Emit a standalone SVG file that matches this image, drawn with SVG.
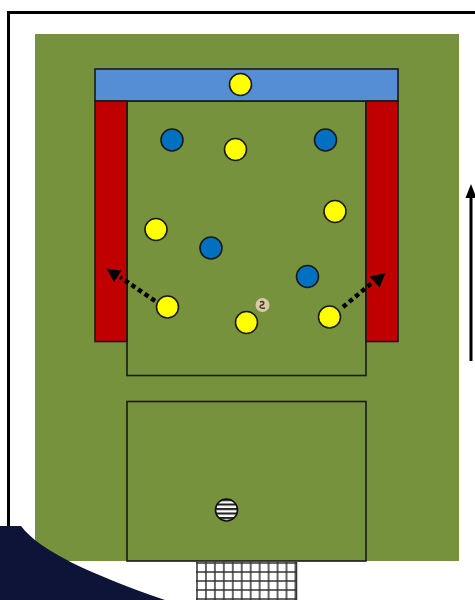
<svg xmlns="http://www.w3.org/2000/svg" width="475" height="600" viewBox="0 0 475 600">
<defs>
<style>
.zone{stroke:#1a1a1a;stroke-width:1.6}
.y{fill:#ffff00;stroke:#1a1a1a;stroke-width:1.6}
.b{fill:#0070c0;stroke:#1a1a1a;stroke-width:1.6}
.run{fill:none;stroke:#000;stroke-width:4.500;stroke-dasharray:4.500 3.500}
</style>
<pattern id="net" width="8.950" height="9" patternUnits="userSpaceOnUse" x="196" y="562"><path d="M0 1H8.950M1 0V9" fill="none" stroke="#333" stroke-width="1.500"/></pattern>
<pattern id="stripes" width="4.500" height="4.500" patternUnits="userSpaceOnUse" x="215" y="499"><rect width="4.500" height="2.200" fill="#222"/><rect y="2.200" width="4.500" height="2.300" fill="#fff"/></pattern>
</defs>
<rect width="475" height="600" fill="#fff"/>
<path d="M8.500 560V12.500H475" fill="none" stroke="#000" stroke-width="3"/>
<rect id="pitch" x="35" y="34" width="424" height="527" fill="#76923c"/>
<g id="zones">
<rect id="box-upper" class="zone" x="127" y="101" width="239" height="274.500" fill="#76923c"/>
<rect id="box-lower" class="zone" x="127" y="401.500" width="239" height="159.500" fill="#76923c"/>
<rect id="zone-top" class="zone" x="95" y="69" width="303" height="32" fill="#558ed5"/>
<rect id="zone-left" class="zone" x="95" y="101" width="32" height="240.500" fill="#c00000"/>
<rect id="zone-right" class="zone" x="366" y="101" width="32" height="240.500" fill="#c00000"/>
</g>
<g id="goal"><rect x="196" y="562" width="101" height="38" fill="#fff"/><rect x="196" y="562" width="101" height="38" fill="url(#net)"/><path d="M296.500 562V600" stroke="#333" stroke-width="1.500"/></g>
<g id="connectors">
<path class="run" d="M155 301L120 277"/>
<path d="M106.500 268.500L121.500 270.500L114 282Z" fill="#000"/>
<path class="run" d="M343 307L373 282"/>
<path d="M385.500 273L379.500 287.500L369.500 276.500Z" fill="#000"/>
<path d="M471 361V195" fill="none" stroke="#000" stroke-width="3"/>
<path d="M471 184L476.500 198H465.500Z" fill="#000"/>
</g>
<g id="p1"><circle class="y" cx="240.500" cy="84.500" r="11"/></g>
<g id="p2"><circle class="y" cx="235.500" cy="149.500" r="11"/></g>
<g id="p3"><circle class="y" cx="335" cy="211.500" r="11"/></g>
<g id="p4"><circle class="y" cx="156" cy="229.500" r="11"/></g>
<g id="p5"><circle class="y" cx="167.500" cy="307" r="11"/></g>
<g id="p6"><circle class="y" cx="246.500" cy="322.500" r="11"/></g>
<g id="p7"><circle class="y" cx="329.500" cy="317" r="11"/></g>
<g id="d1"><circle class="b" cx="172" cy="140" r="11"/></g>
<g id="d2"><circle class="b" cx="325.500" cy="140" r="11"/></g>
<g id="d3"><circle class="b" cx="211" cy="248" r="11"/></g>
<g id="d4"><circle class="b" cx="307.500" cy="276.500" r="11"/></g>
<g id="ball"><circle cx="262.500" cy="305" r="7" fill="#d9c9a8"/><path d="M260 302C264 300 265 304 262 305C259 306 259 309 265 308" fill="none" stroke="#4a3520" stroke-width="1.500"/></g>
<g id="keeper"><circle cx="226.500" cy="510" r="11" fill="url(#stripes)" stroke="#111" stroke-width="1.600"/></g>
<path id="corner" d="M0 526H21C40 551 90 574 165 600H0Z" fill="#0e1437"/>
</svg>
